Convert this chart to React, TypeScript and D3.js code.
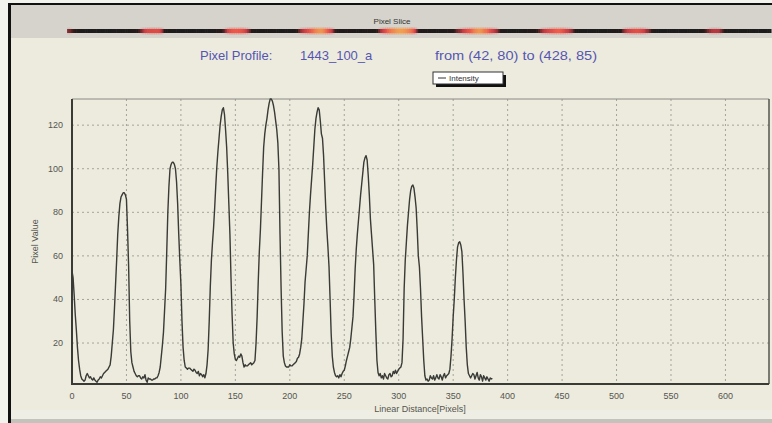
import React from "react";
import * as d3 from "d3";

// intensity profile, one value per pixel of linear distance (0..386)
const intensity: number[] = [
  53, 50, 42, 33, 26, 18, 12, 8, 5, 3.5,
  3, 2.5, 3, 5, 6, 5, 4, 4.5, 3.5, 3,
  4, 3, 2.5, 2, 3, 3.5, 4.5, 4, 5, 6,
  6.5, 7, 7.5, 8, 9, 10, 14, 20, 26, 36,
  47, 58, 70, 78, 84, 87, 88, 89, 89, 88,
  86, 72, 55, 30, 16, 11, 9, 7, 6, 5,
  4.5, 5, 5, 4, 3.5, 4.5, 4, 5.5, 3, 2,
  4, 3.5, 3.5, 3, 3, 3.5, 3.5, 4, 4, 5,
  6.5, 9, 14, 19, 25, 35, 45, 62, 80, 92,
  100, 102, 103, 103, 102, 100, 94, 84, 70, 58,
  47, 30, 18, 12, 9, 8.5, 8, 8.5, 8.5, 8,
  7.5, 7, 8, 7.5, 6.5, 6, 7, 5, 6, 5.5,
  4.5, 5.5, 4, 6, 10, 17, 30, 46, 58, 66,
  73, 82, 92, 101, 108, 114, 120, 124, 127, 128,
  125, 118, 110, 98, 84, 70, 50, 33, 20, 15,
  12.5, 12, 13, 14, 13.5, 15, 14, 11, 9, 10,
  9.5, 9.5, 10, 10.5, 11, 10, 10.5, 11, 12, 20,
  32, 48, 62, 72, 85, 98, 110, 116, 120, 123,
  127, 130, 132, 132, 131, 129, 126, 122, 118, 112,
  100, 70, 45, 25, 14, 11, 9.5, 9, 9, 9,
  10, 9.5, 9.5, 10, 10.5, 11, 11.5, 13, 13.5, 15,
  18, 22, 30, 38, 48, 54, 60, 70, 80, 88,
  95, 102, 110, 118, 123, 126, 128, 127, 122, 116,
  114, 106, 94, 82, 72, 64, 55, 40, 24, 14,
  9, 6.5, 5, 4.5, 5, 4, 5.5, 4.5, 6, 7,
  7.5, 9.5, 12, 14, 16, 18, 22, 27, 32, 42,
  54, 63, 70, 76, 82, 88, 93, 98, 103, 105,
  106, 104, 97, 88, 77, 70, 63, 56, 40, 25,
  12, 6.5, 5, 6, 4, 5, 3.5, 6, 5, 4,
  3.5, 5.5, 6, 4.5, 5, 7, 6, 7.5, 6, 7,
  8, 8.5, 9, 11, 22, 45, 58, 66, 74, 80,
  86, 90, 92, 92.5, 91, 87, 82, 72, 60, 55,
  45, 32, 22, 12, 5, 3, 3.5, 2.5, 3, 5,
  4, 3.5, 5, 3, 4, 5.5, 4, 3.5, 5.5, 4.5,
  3, 5, 6, 4, 5, 5.5, 6, 8, 14, 22,
  32, 40, 50, 58, 64, 66, 66.5, 65, 62, 52,
  40, 30, 18, 10, 6, 5, 4, 5, 6, 5.5,
  3.5, 5, 6.5, 4, 3, 5.5, 4.5, 2.5, 5, 4,
  3, 4.5, 3.5, 2.5, 4, 3.5, 3.8,
];

const xTicks = [0, 50, 100, 150, 200, 250, 300, 350, 400, 450, 500, 550, 600];
const yTicks = [20, 40, 60, 80, 100, 120];

const W = 772;
const H = 423;

const bg = "#ecebde";
const font = "Arial, 'Liberation Sans', sans-serif";

export default function App() {
  const x = d3.scaleLinear().domain([0, 640]).range([72, 769]);
  const y = d3.scaleLinear().domain([1.2, 132]).range([384, 99]);

  const line = d3
    .line<number>()
    .x((_, i) => x(i))
    .y((d) => y(d));

  // slice strip across the top
  const sx = d3.scaleLinear().domain([0, intensity.length - 1]).range([68, 770]);
  const sliceColor = d3
    .scaleLinear<string>()
    .domain([0, 30, 70, 105, 132])
    .range(["#1c1c1c", "#2a1a1a", "#c83c44", "#f05a4a", "#f2a050"]);
  const step = sx(1) - sx(0);

  return (
    <div style={{ position: "absolute", left: 0, top: 0 }}>
      <svg width={W} height={H} style={{ display: "block" }}>
        <rect x={0} y={0} width={W} height={H} fill="#f3f3ee" />
        {/* window frame */}
        <rect x={8} y={3} width={W - 8} height={H - 3} fill="#111" />
        <rect x={11} y={5} width={W - 11} height={33} fill="#d5d3cb" />
        <rect x={11} y={38} width={W - 11} height={380} fill={bg} />
        <rect x={11} y={410} width={W - 11} height={9} fill="#efeee4" />
        <rect x={11} y={419} width={W - 11} height={4} fill="#c4c3bb" />

        <text
          x={392}
          y={24}
          textAnchor="middle"
          fontFamily={font}
          fontSize={8}
          fill="#333"
        >
          Pixel Slice
        </text>

        {/* slice strip */}
        <g>
          {intensity.map((v, i) => (
            <rect
              key={"s" + i}
              x={sx(i) - step / 2}
              y={29}
              width={step + 0.6}
              height={4}
              fill={sliceColor(v)}
            />
          ))}
          {intensity.map((v, i) =>
            v > 40 ? (
              <rect
                key={"g" + i}
                x={sx(i) - step / 2}
                y={27.5}
                width={step + 0.6}
                height={7}
                fill={sliceColor(v)}
                opacity={((v - 40) / 92) * 0.45}
              />
            ) : null
          )}
        </g>

        {/* title */}
        <g fontFamily={font} fontSize={13} fill="#5656b2">
          <text x={200} y={60}>Pixel Profile:</text>
          <text x={300} y={60}>1443_100_a</text>
          <text x={435} y={60} textLength={162} lengthAdjust="spacingAndGlyphs">
            from (42, 80) to (428, 85)
          </text>
        </g>

        {/* legend */}
        <rect x={436} y={75} width={70} height={12} fill="#111" />
        <rect x={433} y={72} width={70} height={12} fill="#fff" stroke="#333" strokeWidth={1} />
        <line x1={438} x2={446} y1={78} y2={78} stroke="#333" strokeWidth={1} />
        <text x={449} y={81} fontFamily={font} fontSize={8} fill="#333">
          Intensity
        </text>

        {/* grid */}
        <g stroke="#a4a39a" strokeWidth={1} strokeDasharray="2,3">
          {yTicks.map((t) => (
            <line key={"hy" + t} x1={x(0)} x2={x(640)} y1={y(t)} y2={y(t)} />
          ))}
          {xTicks
            .filter((t) => t > 0)
            .map((t) => (
              <line key={"vx" + t} x1={x(t)} x2={x(t)} y1={99} y2={384} />
            ))}
        </g>

        {/* plot frame */}
        <line x1={72} x2={769} y1={99} y2={99} stroke="#8a8a84" strokeWidth={1} />
        <line x1={769} x2={769} y1={99} y2={384} stroke="#55554f" strokeWidth={1.5} />
        <line x1={72} x2={769} y1={384} y2={384} stroke="#3a3a36" strokeWidth={2} />
        <line x1={72} x2={72} y1={99} y2={385} stroke="#3a3a36" strokeWidth={2} />

        {/* data */}
        <path
          d={line(intensity) ?? ""}
          fill="none"
          stroke="#3a3a36"
          strokeWidth={1.4}
          strokeLinejoin="round"
        />

        {/* tick labels */}
        <g fontFamily={font} fontSize={9} fill="#55554f">
          {yTicks.map((t) => (
            <text key={"ly" + t} x={63} y={y(t) + 3} textAnchor="end">
              {t}
            </text>
          ))}
          {xTicks.map((t) => (
            <text key={"lx" + t} x={x(t)} y={399} textAnchor="middle">
              {t}
            </text>
          ))}
          <text x={420} y={412} textAnchor="middle">
            Linear Distance[Pixels]
          </text>
          <text
            transform={`translate(38, ${(99 + 384) / 2}) rotate(-90)`}
            textAnchor="middle"
          >
            Pixel Value
          </text>
        </g>
      </svg>
    </div>
  );
}
